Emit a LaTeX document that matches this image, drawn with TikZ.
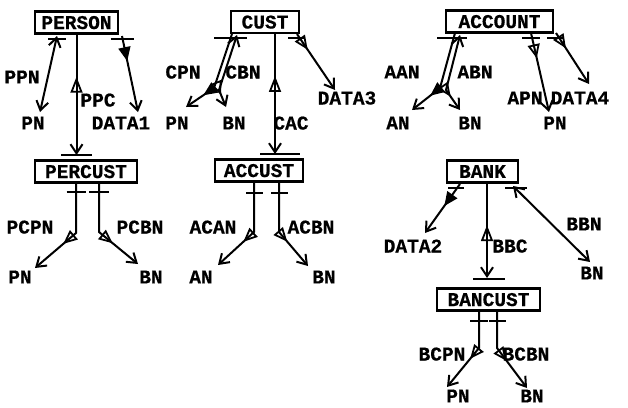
\documentclass[tikz,border=0pt]{standalone}
\usepackage{fontspec}
\setmainfont{Liberation Mono}[BoldFeatures={FakeBold=0.5}]
\usetikzlibrary{arrows.meta,decorations.markings,calc}

\begin{document}
\begin{tikzpicture}[x=1pt,y=-1pt,
  every node/.style={font=\fontsize{19.5}{19.5}\selectfont\bfseries, inner sep=0pt, text depth=0pt},
  rec/.style={draw, line width=2.2pt, minimum height=22pt},
  link/.style={line width=2pt},
  bar/.style={line width=2pt},
  vend/.style={-{Straight Barb[length=9pt,width=12pt]}},
  vboth/.style={{Straight Barb[length=9pt,width=12pt]}-{Straight Barb[length=9pt,width=12pt]}},
  tri/.style={postaction={decorate,decoration={markings,mark=at position #1 with {\arrow{Triangle[open,length=14pt,width=12pt,line width=1.8pt]}}}}},
  ftri/.style={postaction={decorate,decoration={markings,mark=at position #1 with {\arrow{Triangle[length=14pt,width=12pt]}}}}},
  triup/.style={postaction={decorate,decoration={markings,mark=at position #1 with {\arrowreversed{Triangle[open,length=16pt,width=12pt,line width=1.8pt]}}}}}
]
\useasboundingbox (0,0) rectangle (628,407);

% record types
\node[rec, minimum width=83pt]  (person)  at (76.5,22.5) {PERSON};
\node[rec, minimum width=68pt]  (cust)    at (265,22)    {CUST};
\node[rec, minimum width=107pt] (account) at (499.5,21.5){ACCOUNT};
\node[rec, minimum width=102pt] (percust) at (86,171.5)  {PERCUST};
\node[rec, minimum width=88pt]  (accust)  at (259,170.5) {ACCUST};
\node[rec, minimum width=71pt]  (bank)    at (482.5,171.5){BANK};
\node[rec, minimum width=103pt] (bancust) at (488.5,299.5){BANCUST};

% item and set labels
\node (lppn)  at (22,77)   {PPN};
\node (pn1)   at (33,123)  {PN};
\node (lppc)  at (98,100)  {PPC};
\node (data1) at (121,123) {DATA1};
\node (lpcpn) at (30,227)  {PCPN};
\node (lpcbn) at (140,227) {PCBN};
\node (pn2)   at (20,277)  {PN};
\node (bn2)   at (151,277) {BN};

\node (lcpn)  at (183,72)  {CPN};
\node (lcbn)  at (243,72)  {CBN};
\node (pn3)   at (177,123) {PN};
\node (bn3)   at (234,123) {BN};
\node (lcac)  at (291,123) {CAC};
\node (data3) at (347,98)  {DATA3};
\node (lacan) at (213,227) {ACAN};
\node (lacbn) at (311,227) {ACBN};
\node (an4)   at (201,277) {AN};
\node (bn4)   at (324,277) {BN};

\node (laan)  at (402,72)  {AAN};
\node (labn)  at (475,72)  {ABN};
\node (an5)   at (398,123) {AN};
\node (bn5)   at (470,123) {BN};
\node (lapn)  at (525,98)  {APN};
\node (data4) at (580,98)  {DATA4};
\node (pn5)   at (555,123) {PN};

\node (data2) at (413,246) {DATA2};
\node (lbbc)  at (510,246) {BBC};
\node (lbbn)  at (584,224) {BBN};
\node (bn6)   at (592,273) {BN};
\node (lbcpn) at (442,354) {BCPN};
\node (lbcbn) at (526,354) {BCBN};
\node (pn7)   at (458,396) {PN};
\node (bn7)   at (532,396) {BN};

% ---- PERSON ----
\coordinate (ppnS) at (57,36);   \coordinate (ppnT) at (40,112);
\coordinate (ppcB) at (76.5,155);
\coordinate (d1S)  at (122,36);  \coordinate (d1T)  at (138,112);
\draw[bar] (48,38.5) -- (66,38.5);
\draw[bar] (110.5,38.5) -- (133.5,38.5);
\draw[bar] (61,155) -- (92,155);
\draw[link,vboth] (ppnS) -- (ppnT);
\draw[link,vend,triup=0.35] (person.south) -- (ppcB);
\draw[link,vend,ftri=0.33] (d1S) -- (d1T);

% ---- PERCUST ----
\coordinate (pcl) at (76,233);  \coordinate (pclT) at (35,268);
\coordinate (pcr) at (99,232);  \coordinate (pcrT) at (138,264);
\draw[bar] (66.5,192) -- (85.5,192);
\draw[bar] (89,192) -- (109,192);
\draw[link,vend,tri=0.64] (percust.south -| pcl) -- (pcl) -- (pclT);
\draw[link,vend,tri=0.67] (percust.south -| pcr) -- (pcr) -- (pcrT);

% ---- CUST ----
\coordinate (cpnS) at (232,34); \coordinate (cpnK) at (214,88); \coordinate (cpnT) at (186,107);
\coordinate (cbnS) at (237,35); \coordinate (cbnK) at (219,90); \coordinate (cbnT) at (226,107);
\coordinate (cacS) at (275,33); \coordinate (cacB) at (275,154);
\coordinate (d3S)  at (297,34); \coordinate (d3T)  at (335,90);
\draw[bar] (214,37.5) -- (247,37.5);
\draw[bar] (260,154) -- (300,154);
\draw[bar] (288,38) -- (304,38);
\draw[link,vend,ftri=0.77] (cpnS) -- (cpnK) -- (cpnT);
\draw[link,vboth,tri=0.83] (cbnS) -- (cbnK) -- (cbnT);
\draw[link,vend,triup=0.355] (cacS) -- (cacB);
\draw[link,vend,tri=0.28] (d3S) -- (d3T);

% ---- ACCUST ----
\coordinate (acl) at (254,232); \coordinate (aclT) at (218,265);
\coordinate (acr) at (279,232); \coordinate (acrT) at (308,266);
\draw[bar] (246,193) -- (263,193);
\draw[bar] (271,193) -- (288,193);
\draw[link,vend,tri=0.65] (accust.south -| acl) -- (acl) -- (aclT);
\draw[link,vend,tri=0.66] (accust.south -| acr) -- (acr) -- (acrT);

% ---- ACCOUNT ----
\coordinate (aanS) at (455,33); \coordinate (aanK) at (440,88); \coordinate (aanT) at (412,110);
\coordinate (abnS) at (460,35); \coordinate (abnK) at (446,90); \coordinate (abnT) at (460,110);
\coordinate (apnS) at (531,33); \coordinate (apnT) at (549,112);
\coordinate (d4S)  at (556,33); \coordinate (d4T)  at (589,84);
\draw[bar] (437,37.5) -- (467,37.5);
\draw[bar] (522,37.5) -- (540,37.5);
\draw[bar] (547,37.5) -- (563,37.5);
\draw[link,vend,ftri=0.75] (aanS) -- (aanK) -- (aanT);
\draw[link,vboth,tri=0.8] (abnS) -- (abnK) -- (abnT);
\draw[link,vend,tri=0.32] (apnS) -- (apnT);
\draw[link,vend,tri=0.3] (d4S) -- (d4T);

% ---- BANK ----
\coordinate (d2S)  at (460,184); \coordinate (d2T) at (425,233);
\coordinate (bbcB) at (487,278);
\coordinate (bbnS) at (513,186); \coordinate (bbnT) at (590,262);
\draw[bar] (448,188) -- (464,188);
\draw[bar] (505,188) -- (527,188);
\draw[bar] (473,279) -- (505,279);
\draw[link,vend,ftri=0.45] (d2S) -- (d2T);
\draw[link,vend,triup=0.44] (bank.south -| bbcB) -- (bbcB);
\draw[link,vboth] (bbnS) -- (bbnT);

% ---- BANCUST ----
\coordinate (bcl) at (479,348); \coordinate (bclT) at (447,387);
\coordinate (bcr) at (497,348); \coordinate (bcrT) at (527,388);
\draw[bar] (470,321) -- (488,321);
\draw[bar] (489,321) -- (506,321);
\draw[link,vend,tri=0.58] (bancust.south -| bcl) -- (bcl) -- (bclT);
\draw[link,vend,tri=0.61] (bancust.south -| bcr) -- (bcr) -- (bcrT);
\end{tikzpicture}
\end{document}
